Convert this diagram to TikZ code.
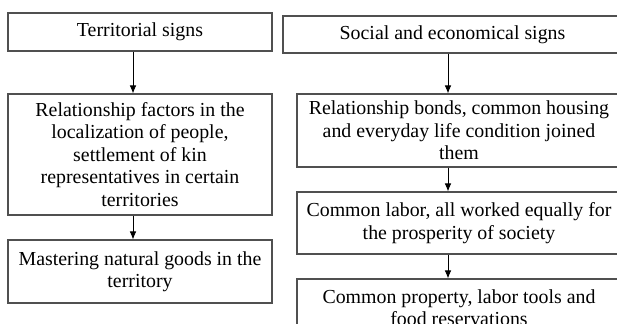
\documentclass[tikz,border=0pt]{standalone}
\usepackage{fontspec}
\setmainfont{Liberation Serif}
\usetikzlibrary{arrows.meta}
\definecolor{boxgray}{RGB}{80,80,80}

\begin{document}
\begin{tikzpicture}[x=0.75pt,y=-0.75pt,
  signbox/.style={draw=boxgray, line width=0.8pt, align=center, inner sep=0pt,
    font=\fontsize{14.9}{16.8}\selectfont},
  flow/.style={-{Latex[length=6pt,width=5pt]}, line width=0.7pt}]
  \useasboundingbox (0,0) rectangle (617,324);
  \clip (0,0) rectangle (617,324);

  \coordinate (leftaxis) at (133,0);
  \coordinate (rightaxis) at (448,0);

  \node[signbox, minimum width=198pt, minimum height=28.5pt] (territorial) at (140,32) {Territorial signs};
  \node[signbox, minimum width=198pt, minimum height=90.75pt] (factors) at (140,154.5)
    {Relationship factors in the\\localization of people,\\settlement of kin\\representatives in certain\\territories};
  \node[signbox, minimum width=198pt, minimum height=47.25pt] (mastering) at (140,271.5)
    {Mastering natural goods in the\\territory};

  \node[signbox, minimum width=254.25pt, minimum height=27.75pt] (social) at (452.5,34.5) {Social and economical signs};
  \node[signbox, minimum width=243pt, minimum height=54.75pt] (bonds) at (459,130.5)
    {Relationship bonds, common housing\\and everyday life condition joined\\them};
  \node[signbox, minimum width=243pt, minimum height=46.5pt] (labor) at (459,223)
    {Common labor, all worked equally for\\the prosperity of society};
  \node[signbox, minimum width=243pt, minimum height=42.75pt] (property) at (459,307.5)
    {Common property, labor tools and\\food reservations};

  \draw[flow] (territorial.south -| leftaxis) -- (factors.north -| leftaxis);
  \draw[flow] (factors.south -| leftaxis) -- (mastering.north -| leftaxis);
  \draw[flow] (social.south -| rightaxis) -- (bonds.north -| rightaxis);
  \draw[flow] (bonds.south -| rightaxis) -- (labor.north -| rightaxis);
  \draw[flow] (labor.south -| rightaxis) -- (property.north -| rightaxis);
\end{tikzpicture}
\end{document}
